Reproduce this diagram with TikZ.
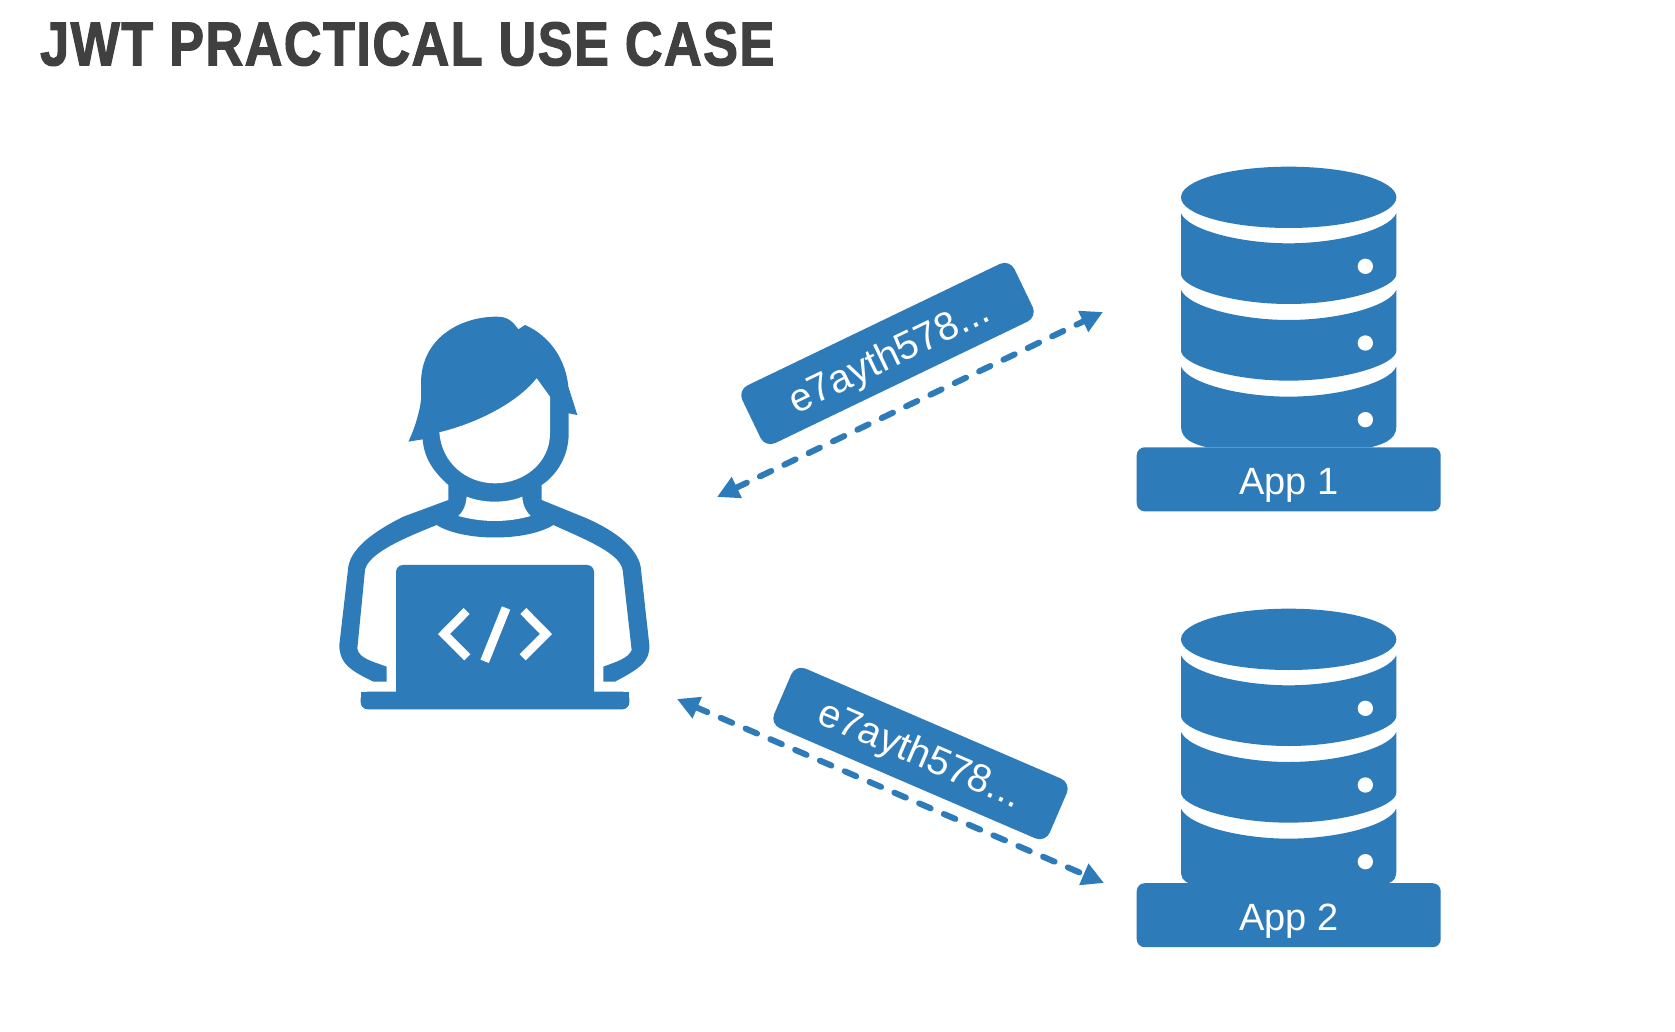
\documentclass[tikz,border=0pt]{standalone}
\usepackage{fontspec}
\usepackage{graphicx}
\usetikzlibrary{arrows.meta}
\setmainfont{Liberation Sans}
\newfontfamily\titlefont[UprightFont=* Bold,FakeBold=2.2,LetterSpace=3]{Liberation Sans}
\definecolor{iconblue}{HTML}{2E7BBA}
\definecolor{titlegrey}{HTML}{404040}
\tikzset{
  icon/.style={x=0.33333pt,y=-0.33333pt},
  flow/.style={draw=iconblue,line width=6pt,line cap=round,dash pattern=on 12.5pt off 14.5pt,{Triangle[length=22pt,width=22pt]}-{Triangle[length=22pt,width=22pt]}},
  token/.style={fill=iconblue,text=white,rounded corners=11pt,inner sep=0pt,font=\fontsize{39.5}{39.5}\selectfont,text depth=0pt},
  plate/.style={fill=iconblue,rounded corners=8pt,minimum width=304pt,minimum height=64pt,inner sep=0pt},
  applabel/.style={anchor=base,text=white,inner sep=0pt,font=\fontsize{38}{38}\selectfont},
}
\newcommand{\dbsegment}[2]{%
  \fill[iconblue] (183,#1) .. controls (205,{#1+50}) and (360,{#1+90}) .. (506,{#1+90})
    .. controls (652,{#1+90}) and (807,{#1+50}) .. (829,#1) -- (829,#2)
    .. controls (829,{#2+40}) and (680,{#2+90}) .. (506,{#2+90})
    .. controls (332,{#2+90}) and (183,{#2+40}) .. (183,#2) -- cycle;}
\newcommand{\dbicon}[3]{% #1 shift y, #2 bottom cut y, #3 cut x
  \begin{scope}[shift={(1120,#1)},icon]
    \fill[iconblue] (506,142) ellipse [x radius=323,y radius=92];
    \dbsegment{190}{372}
    \dbsegment{420}{602}
    \fill[iconblue] (183,650) .. controls (205,700) and (360,740) .. (506,740)
      .. controls (652,740) and (807,700) .. (829,650) -- (829,830)
      .. controls (829,{#2-20}) and ({1012-#3+30},{#2-8}) .. ({1012-#3},#2) -- (#3,#2)
      .. controls ({#3-30},{#2-8}) and (183,{#2-20}) .. (183,830) -- cycle;
    \foreach \yy in {349,579,809} \fill[white] (736,\yy) circle [radius=23];
  \end{scope}}
\begin{document}
\begin{tikzpicture}[x=1pt,y=-1pt]
\useasboundingbox (0,0) rectangle (1675,1032);
\fill[white] (0,0) rectangle (1675,1032);
% title
\node[anchor=south west,inner sep=0pt,text=titlegrey] (title) at (40,66)
  {\resizebox{734pt}{43pt}{\titlefont JWT PRACTICAL USE CASE}};
% person
\begin{scope}[shift={(320,300)},icon]
  \fill[iconblue] (385,555) .. controls (335,510) and (312,470) .. (308,418) -- (265,425)
    .. controls (285,385) and (300,330) .. (303,300) -- (303,250)
    .. controls (303,115) and (420,50) .. (530,50) .. controls (565,50) and (578,65) .. (595,88)
    -- (615,75) .. controls (695,110) and (738,185) .. (745,260) -- (772,345) -- (746,340) -- (746,400)
    .. controls (746,470) and (710,525) .. (665,555) -- (665,600) -- (800,655)
    .. controls (880,690) and (950,740) .. (962,800) -- (988,1035)
    .. controls (990,1085) and (960,1105) .. (885,1145) -- (850,1145) -- (850,1100)
    .. controls (890,1085) and (925,1075) .. (935,1050) -- (908,810)
    .. controls (900,760) and (800,720) .. (700,675) .. controls (620,725) and (430,725) .. (350,675)
    .. controls (250,715) and (145,760) .. (135,810) -- (112,1045)
    .. controls (115,1075) and (160,1085) .. (200,1100) -- (200,1145) -- (160,1145)
    .. controls (100,1115) and (58,1095) .. (58,1035) -- (85,800)
    .. controls (95,740) and (170,690) .. (250,650) -- (385,600) -- cycle;
  \fill[white] (358,397) .. controls (470,370) and (590,310) .. (650,235) -- (690,290) -- (690,400)
    .. controls (690,490) and (610,550) .. (525,550) .. controls (440,550) and (365,490) .. (358,397) -- cycle;
  \fill[white] (440,590) .. controls (490,610) and (560,610) .. (607,590)
    .. controls (608,615) and (618,635) .. (632,648) .. controls (560,668) and (490,668) .. (415,648)
    .. controls (430,635) and (438,615) .. (440,590) -- cycle;
  % laptop
  \fill[iconblue,rounded corners=7pt] (228,1205) -- (228,795) -- (822,795) -- (822,1205) -- cycle;
  \fill[iconblue,rounded corners=7pt] (122,1175) -- (122,1228) -- (928,1228) -- (928,1175) -- cycle;
  \fill[iconblue] (122,1175) rectangle (928,1195);
  \draw[white,line width=8.5pt,miter limit=10] (440,933) -- (372,1002) -- (442,1072);
  \draw[white,line width=9pt] (558,924) -- (494,1084);
  \draw[white,line width=8.5pt,miter limit=10] (610,933) -- (678,1002) -- (608,1072);
\end{scope}
% databases
\dbicon{150}{892}{260}
\dbicon{592}{876}{215}
\node[plate] (app1) at (1288.7,479.3) {};
\node[applabel] (app1label) at (1288.7,494) {App 1};
\node[plate] (app2) at (1288.7,915.2) {};
\node[applabel] (app2label) at (1288.7,930) {App 2};
% tokens
\node[token,rotate=25.7,minimum width=302pt,minimum height=64pt,text height=30pt] (tok1) at (887.5,353.5) {e7ayth578...};
\node[token,rotate=-23.3,minimum width=300pt,minimum height=65pt,text height=26pt] (tok2) at (920.5,753.5) {e7ayth578...};
% connectors
\coordinate (a1) at (717,497);
\coordinate (b1) at (1103,312);
\coordinate (a2) at (677,699);
\coordinate (b2) at (1104,883);
\draw[flow] (a1) -- (b1);
\draw[flow] (a2) -- (b2);
\end{tikzpicture}
\end{document}
